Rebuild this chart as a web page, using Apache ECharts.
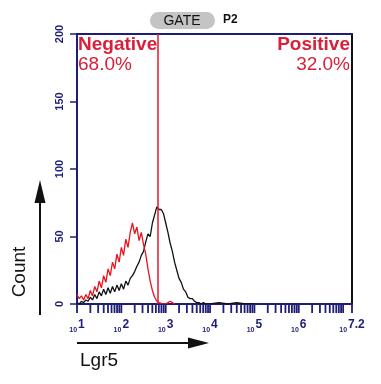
<!DOCTYPE html>
<html>
<head>
<meta charset="utf-8">
<script src="https://cdn.jsdelivr.net/npm/echarts@6/dist/echarts.min.js"></script>
<style>html,body{margin:0;padding:0;background:#fff;}#c{width:381px;height:384px;}</style>
</head>
<body>
<div id="c"></div>
<script>
// x values are log10 of fluorescence (10^1 .. 10^7.2)
const redX = [1.00,1.05,1.10,1.15,1.20,1.25,1.30,1.35,1.40,1.45,1.50,1.55,1.60,1.65,1.70,1.75,1.80,1.85,1.90,1.95,2.00,2.05,2.10,2.15,2.20,2.25,2.30,2.35,2.40,2.45,2.50,2.55,2.60,2.65,2.70,2.75,2.80,2.85,2.90,2.95,3.00,3.05,3.10,3.15,3.20];
const redY = [7,4,6,3,7,4,10,6,13,9,17,12,21,16,26,21,31,26,37,31,42,36,48,42,53,60,52,57,47,53,44,37,26,17,10,5,2,1,0.5,0,0,1,2,1,0];
const blackX = [1.00,1.05,1.10,1.15,1.20,1.25,1.30,1.35,1.40,1.45,1.50,1.55,1.60,1.65,1.70,1.75,1.80,1.85,1.90,1.95,2.00,2.05,2.10,2.15,2.20,2.25,2.30,2.35,2.40,2.45,2.50,2.55,2.60,2.65,2.70,2.75,2.80,2.85,2.90,2.95,3.00,3.05,3.10,3.15,3.20,3.25,3.30,3.35,3.40,3.45,3.50,3.55,3.60,3.65,3.70,3.75,3.80,3.85,3.90,4.00,4.20,4.40,4.60,4.80,5.00];
const blackY = [1,0,2,1,3,2,5,3,7,4,9,6,11,7,12,8,13,9,14,10,15,11,17,14,19,21,24,28,31,36,39,46,52,50,60,66,72,70,70,67,60,53,45,39,31,25,19,16,11,9,5,4,4,2,1,1,0,1,0,0,1,0,1,0,0];
const gateX = 2.826;
const yTicks = [0, 50, 100, 150, 200];
const xLabels = {1:'1',2:'2',3:'3',4:'4',5:'5',6:'6',7.2:'7.2'};
const tickMantissas = [1,2,3,4,5,6,7,8,9];
const tickDecades = [1,2,3,4,5,6,7];

const NAVY = '#1e1e78';
const RED = '#d8203a';

const tickData = [];
tickDecades.forEach(d => tickMantissas.forEach(m => {
  const v = d + Math.log10(m);
  if (v <= 7.2) tickData.push([v, 0]);
}));
tickData.push([7.2, 0]);

const chart = echarts.init(document.getElementById('c'), null, {renderer: 'canvas'});
chart.setOption({
  animation: false,
  backgroundColor: '#fff',
  grid: {left: 77, right: 29, top: 34, bottom: 80, containLabel: false, outerBoundsMode: 'none'},
  xAxis: [{
    type: 'value', min: 1, max: 7.2, interval: 1, position: 'bottom',
    axisLine: {show: true, onZero: false, lineStyle: {color: NAVY, width: 2}},
    axisTick: {show: false}, splitLine: {show: false},
    axisLabel: {
      showMaxLabel: true, showMinLabel: true, margin: 15,
      formatter: v => {
        const k = Math.abs(v - 7.2) < 1e-6 ? 7.2 : v;
        const e = xLabels[k];
        return e ? '{a|10}{b|' + e + '}' : '';
      },
      rich: {
        a: {fontSize: 7, fontWeight: 'bold', color: NAVY, fontFamily: 'Liberation Sans', verticalAlign: 'bottom', padding: [0, 1, 0, 0]},
        b: {fontSize: 12, fontWeight: 'bold', color: NAVY, fontFamily: 'Liberation Sans', verticalAlign: 'bottom', padding: [0, 0, 3, 0]}
      }
    }
  }, {
    type: 'value', min: 1, max: 7.2, position: 'top',
    axisLine: {show: true, onZero: false, lineStyle: {color: NAVY, width: 2}},
    axisTick: {show: false}, axisLabel: {show: false}, splitLine: {show: false}
  }],
  yAxis: [{
    type: 'value', min: 0, max: 200, interval: 50, position: 'left',
    axisLine: {show: true, onZero: false, lineStyle: {color: NAVY, width: 2}},
    axisTick: {show: true, length: 7, lineStyle: {color: NAVY, width: 1.5}},
    splitLine: {show: false},
    axisLabel: {rotate: 90, margin: 12, fontSize: 11, fontWeight: 'bold', color: NAVY, fontFamily: 'Liberation Sans',
      formatter: v => yTicks.includes(v) ? String(v) : ''}
  }, {
    type: 'value', min: 0, max: 200, position: 'right',
    axisLine: {show: true, onZero: false, lineStyle: {color: '#111', width: 2}},
    axisTick: {show: false}, axisLabel: {show: false}, splitLine: {show: false}
  }],
  series: [{
    type: 'line', name: 'Control', data: redX.map((x, i) => [x, redY[i]]),
    showSymbol: false, symbol: 'none', lineStyle: {color: '#e8141e', width: 1.3}, z: 3,
    markLine: {symbol: 'none', silent: true, label: {show: false},
      lineStyle: {color: '#e2192c', width: 1.5, type: 'solid'},
      data: [{xAxis: gateX}]}
  }, {
    type: 'line', name: 'Lgr5', data: blackX.map((x, i) => [x, blackY[i]]),
    showSymbol: false, symbol: 'none', lineStyle: {color: '#111', width: 1.3}, z: 2
  }, {
    type: 'custom', data: tickData, clip: false, z: 5, silent: true,
    encode: {x: 0, y: 1},
    renderItem: (params, api) => {
      const p = api.coord([api.value(0), 0]);
      return {type: 'line', shape: {x1: p[0], y1: p[1], x2: p[0], y2: p[1] + 9},
        style: {stroke: NAVY, lineWidth: 1.8}};
    }
  }],
  graphic: [
    {type: 'rect', shape: {x: 150, y: 12, width: 65, height: 17, r: 8.5}, style: {fill: '#c4c4c4'}},
    {type: 'text', x: 182, y: 21, style: {text: 'GATE', font: '14px "Liberation Sans"', fill: '#111', align: 'center', verticalAlign: 'middle'}},
    {type: 'text', x: 223, y: 20, style: {text: 'P2', font: 'bold 12px "Liberation Sans"', fill: '#111', align: 'left', verticalAlign: 'middle'}},
    {type: 'text', x: 78, y: 45, style: {text: 'Negative', font: 'bold 19px "Liberation Sans"', fill: RED, align: 'left', verticalAlign: 'middle'}},
    {type: 'text', x: 78, y: 65, style: {text: '68.0%', font: '19px "Liberation Sans"', fill: RED, align: 'left', verticalAlign: 'middle'}},
    {type: 'text', x: 350, y: 45, style: {text: 'Positive', font: 'bold 19px "Liberation Sans"', fill: RED, align: 'right', verticalAlign: 'middle'}},
    {type: 'text', x: 350, y: 65, style: {text: '32.0%', font: '19px "Liberation Sans"', fill: RED, align: 'right', verticalAlign: 'middle'}},
    {type: 'text', x: 20, y: 272, rotation: Math.PI / 2, style: {text: 'Count', font: '19px "Liberation Sans"', fill: '#111', align: 'center', verticalAlign: 'middle'}},
    {type: 'line', shape: {x1: 40, y1: 315, x2: 40, y2: 200}, style: {stroke: '#111', lineWidth: 2}},
    {type: 'polygon', shape: {points: [[40, 180], [34.5, 203], [45.5, 203]]}, style: {fill: '#111'}},
    {type: 'line', shape: {x1: 77, y1: 343, x2: 192, y2: 343}, style: {stroke: '#111', lineWidth: 2}},
    {type: 'polygon', shape: {points: [[209, 343], [188, 337.5], [188, 348.5]]}, style: {fill: '#111'}},
    {type: 'text', x: 80, y: 361, style: {text: 'Lgr5', font: '19px "Liberation Sans"', fill: '#111', align: 'left', verticalAlign: 'middle'}}
  ]
});
</script>
</body>
</html>
